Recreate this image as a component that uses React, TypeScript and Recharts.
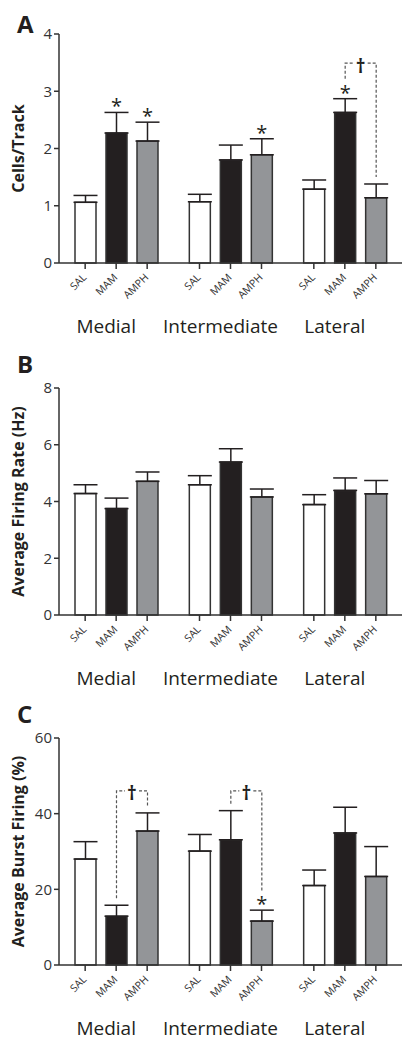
import React from "react";
import { BarChart, Bar, XAxis, YAxis, ErrorBar, LabelList } from "recharts";

const regions = ["Medial", "Intermediate", "Lateral"];
const treatments = ["SAL", "MAM", "AMPH"];

// A - cells per track
const cellsSal = [1.06, 1.07, 1.29];
const cellsSalErr = [0.12, 0.13, 0.16];
const cellsMam = [2.27, 1.8, 2.63];
const cellsMamErr = [0.36, 0.26, 0.24];
const cellsAmph = [2.13, 1.89, 1.14];
const cellsAmphErr = [0.33, 0.28, 0.24];
const cellsMamStar = [true, false, true];
const cellsAmphStar = [true, true, false];
const cellsDaggers = [{ region: 2, level: 3.49 }];
const cellsTicks = [0, 1, 2, 3, 4];

// B - average firing rate (Hz)
const rateSal = [4.28, 4.59, 3.89];
const rateSalErr = [0.31, 0.32, 0.35];
const rateMam = [3.75, 5.39, 4.39];
const rateMamErr = [0.37, 0.47, 0.44];
const rateAmph = [4.71, 4.16, 4.27];
const rateAmphErr = [0.33, 0.28, 0.47];
const rateTicks = [0, 2, 4, 6, 8];

// C - average burst firing (%)
const burstSal = [28.0, 30.1, 21.0];
const burstSalErr = [4.6, 4.4, 4.1];
const burstMam = [12.9, 33.1, 34.9];
const burstMamErr = [2.9, 7.7, 6.8];
const burstAmph = [35.4, 11.6, 23.4];
const burstAmphErr = [4.8, 2.9, 7.9];
const burstAmphStar = [false, true, false];
const burstDaggers = [
  { region: 0, level: 46 },
  { region: 1, level: 46 },
];
const burstTicks = [0, 20, 40, 60];

const INK = "#231f20";
const AXIS = "#333333";
const FILLS: Record<string, string> = { SAL: "#ffffff", MAM: "#231f20", AMPH: "#939598" };
const BAR_SIZE = 21;
const BAR_GAP = 10;
const FONT = "'Open Sans', sans-serif";
const WIDTH = 408;
const Y_AXIS_W = 59;

function GroupTick(props: any) {
  const { x, y, payload } = props;
  const step = BAR_SIZE + BAR_GAP;
  return (
    <g>
      {treatments.map((t, k) => {
        const tx = x + (k - 1) * step;
        const ax = tx + 2;
        const ay = y + 15;
        return (
          <g key={t}>
            <line x1={tx} y1={y} x2={tx} y2={y + 6} stroke={AXIS} strokeWidth={1.5} />
            <text
              x={ax}
              y={ay}
              textAnchor="end"
              fontSize={10.5}
              fontFamily={FONT}
              fill={AXIS}
              transform={`rotate(-45 ${ax} ${ay})`}
            >
              {t}
            </text>
          </g>
        );
      })}
      <text x={x - 10} y={y + 70} textAnchor="middle" fontSize={19} fontFamily={FONT} fill={INK}>
        {payload.value}
      </text>
    </g>
  );
}

function Panel(props: any) {
  const { letter, title, height, plotTop, plotBottom, ticks, series, stars, daggers } = props;
  const max = ticks[ticks.length - 1];
  const ppu = (plotBottom - plotTop) / max;

  const rows = regions.map((r, i) => {
    const row: any = { region: r };
    treatments.forEach((t) => {
      row[t] = series[t].mean[i];
      row[t + "Err"] = [0, series[t].err[i]];
    });
    return row;
  });

  const capOf = (t: string, i: number) => plotBottom - (series[t].mean[i] + series[t].err[i]) * ppu;

  // stars above error caps, dashed MAM-AMPH brackets with a dagger
  const marks = (t: string) => (p: any) => {
    const vb = p.viewBox || p;
    let i = p.index;
    if (i == null) i = series[t].mean.indexOf(p.value);
    if (i < 0 || i == null) return null;
    const cx = vb.x + vb.width / 2;
    const capY = capOf(t, i);
    const out: any[] = [];
    if (stars[t] && stars[t][i]) {
      out.push(
        <text key="star" x={cx} y={capY + 1} textAnchor="middle" fontSize={20} fontFamily={FONT} fill={INK}>
          *
        </text>
      );
    }
    if (t === "MAM") {
      daggers
        .filter((d: any) => d.region === i)
        .forEach((d: any) => {
          const xL = cx;
          const xR = cx + BAR_SIZE + BAR_GAP;
          const xm = (xL + xR) / 2;
          const topY = plotBottom - d.level * ppu;
          const leftEnd = capY - (stars.MAM && stars.MAM[i] ? 20 : 7);
          const rightEnd = capOf("AMPH", i) - (stars.AMPH && stars.AMPH[i] ? 18 : 7);
          out.push(
            <path
              key="br"
              d={`M${xL},${leftEnd}V${topY}H${xm - 7}M${xm + 7},${topY}H${xR}V${rightEnd}`}
              stroke="#555"
              strokeWidth={1.2}
              strokeDasharray="3 2"
              fill="none"
            />
          );
          out.push(
            <text
              key="dg"
              x={xm}
              y={topY + 9.5}
              textAnchor="middle"
              fontSize={19}
              fontWeight="bold"
              fontFamily={FONT}
              fill={INK}
            >
              †
            </text>
          );
        });
    }
    return <g>{out}</g>;
  };

  return (
    <div style={{ position: "relative", width: WIDTH, height }}>
      <BarChart
        width={WIDTH}
        height={height}
        data={rows}
        margin={{ top: plotTop, right: 6, bottom: 0, left: 0 }}
        barGap={BAR_GAP}
      >
        <XAxis
          dataKey="region"
          height={height - plotBottom}
          interval={0}
          tickLine={false}
          tickSize={0}
          tickMargin={0}
          axisLine={{ stroke: AXIS, strokeWidth: 1.5 }}
          tick={<GroupTick />}
        />
        <YAxis
          type="number"
          domain={[0, max]}
          ticks={ticks}
          interval={0}
          width={Y_AXIS_W}
          tickSize={5}
          tickMargin={2}
          axisLine={{ stroke: AXIS, strokeWidth: 1.5 }}
          tickLine={{ stroke: AXIS, strokeWidth: 1.5 }}
          tick={{ fontSize: 15, fill: AXIS, fontFamily: FONT }}
        />
        {treatments.map((t) => (
          <Bar
            key={t}
            dataKey={t}
            barSize={BAR_SIZE}
            fill={FILLS[t]}
            stroke={AXIS}
            strokeWidth={1.5}
            isAnimationActive={false}
          >
            <ErrorBar
              dataKey={t + "Err"}
              width={12}
              stroke={INK}
              strokeWidth={1.5}
              direction="y"
              isAnimationActive={false}
            />
            <LabelList dataKey={t} content={marks(t)} />
          </Bar>
        ))}
      </BarChart>
      <svg
        width={WIDTH}
        height={height}
        style={{ position: "absolute", left: 0, top: 0, pointerEvents: "none" }}
      >
        <text x={17} y={33} fontSize={24} fontWeight="bold" fontFamily={FONT} fill={INK}>
          {letter}
        </text>
        <text
          x={24}
          y={(plotTop + plotBottom) / 2}
          textAnchor="middle"
          fontSize={16}
          fontWeight="bold"
          fontFamily={FONT}
          fill={INK}
          transform={`rotate(-90 24 ${(plotTop + plotBottom) / 2})`}
        >
          {title}
        </text>
      </svg>
    </div>
  );
}

export default function App() {
  return (
    <div style={{ position: "absolute", left: 0, top: 0, width: WIDTH, height: 1050, background: "#fff" }}>
      <Panel
        letter="A"
        title="Cells/Track"
        height={340}
        plotTop={34}
        plotBottom={263}
        ticks={cellsTicks}
        series={{
          SAL: { mean: cellsSal, err: cellsSalErr },
          MAM: { mean: cellsMam, err: cellsMamErr },
          AMPH: { mean: cellsAmph, err: cellsAmphErr },
        }}
        stars={{ MAM: cellsMamStar, AMPH: cellsAmphStar }}
        daggers={cellsDaggers}
      />
      <Panel
        letter="B"
        title="Average Firing Rate (Hz)"
        height={350}
        plotTop={48}
        plotBottom={275}
        ticks={rateTicks}
        series={{
          SAL: { mean: rateSal, err: rateSalErr },
          MAM: { mean: rateMam, err: rateMamErr },
          AMPH: { mean: rateAmph, err: rateAmphErr },
        }}
        stars={{}}
        daggers={[]}
      />
      <Panel
        letter="C"
        title="Average Burst Firing (%)"
        height={360}
        plotTop={48}
        plotBottom={275}
        ticks={burstTicks}
        series={{
          SAL: { mean: burstSal, err: burstSalErr },
          MAM: { mean: burstMam, err: burstMamErr },
          AMPH: { mean: burstAmph, err: burstAmphErr },
        }}
        stars={{ AMPH: burstAmphStar }}
        daggers={burstDaggers}
      />
    </div>
  );
}
